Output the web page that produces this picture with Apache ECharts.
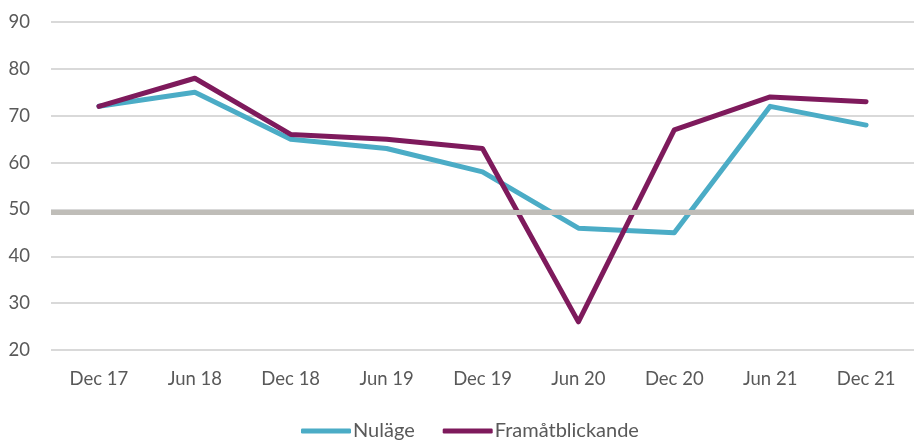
<!DOCTYPE html>
<html>
<head>
<meta charset="utf-8">
<script src="https://cdn.jsdelivr.net/npm/echarts@6/dist/echarts.min.js"></script>
<style>
  html, body { margin: 0; padding: 0; background: #fff; }
  #main { width: 914px; height: 443px; }
</style>
</head>
<body>
<div id="main"></div>
<script>
const categories = ['Dec 17', 'Jun 18', 'Dec 18', 'Jun 19', 'Dec 19', 'Jun 20', 'Dec 20', 'Jun 21', 'Dec 21']
const nulage = [72, 75, 65, 63, 58, 46, 45, 72, 68]
const framat = [72, 78, 66, 65, 63, 26, 67, 74, 73]
const refLevel = 49.5

const myChart = echarts.init(document.getElementById('main'))
const labelFont = { color: '#595959', fontSize: 18.5, fontFamily: 'Lato' }

myChart.setOption({
  animation: false,
  color: ['#4BACC6', '#7E1A5C'],
  legend: {
    data: ['Nuläge', 'Framåtblickande'],
    bottom: -3,
    left: 296,
    icon: 'roundRect',
    itemWidth: 50,
    itemHeight: 5,
    itemGap: 28,
    textStyle: { color: '#595959', fontSize: 20, fontFamily: 'Lato', padding: [0, 0, 0, -3] }
  },
  grid: {
    left: 51,
    top: 22,
    width: 868,
    height: 328
  },
  xAxis: {
    type: 'category',
    data: categories,
    boundaryGap: true,
    axisLine: { show: false },
    axisTick: { show: false },
    axisLabel: { ...labelFont, margin: 20 }
  },
  yAxis: {
    type: 'value',
    min: 20,
    max: 90,
    interval: 10,
    axisLine: { show: false },
    axisTick: { show: false },
    axisLabel: { ...labelFont, margin: 21 },
    splitLine: { lineStyle: { color: '#D9D9D9', width: 2 } }
  },
  series: [
    {
      name: 'Nuläge',
      type: 'line',
      data: nulage,
      symbol: 'none',
      lineStyle: { width: 5, cap: 'round', join: 'round' }
    },
    {
      name: 'Framåtblickande',
      type: 'line',
      data: framat,
      symbol: 'none',
      lineStyle: { width: 5, cap: 'round', join: 'round' }
    },
    {
      name: 'ref',
      type: 'line',
      data: [],
      z: 10,
      markLine: {
        silent: true,
        symbol: 'none',
        label: { show: false },
        lineStyle: { color: '#BFBDB8', width: 5, type: 'solid' },
        data: [{ yAxis: refLevel }]
      }
    }
  ]
})
</script>
</body>
</html>
